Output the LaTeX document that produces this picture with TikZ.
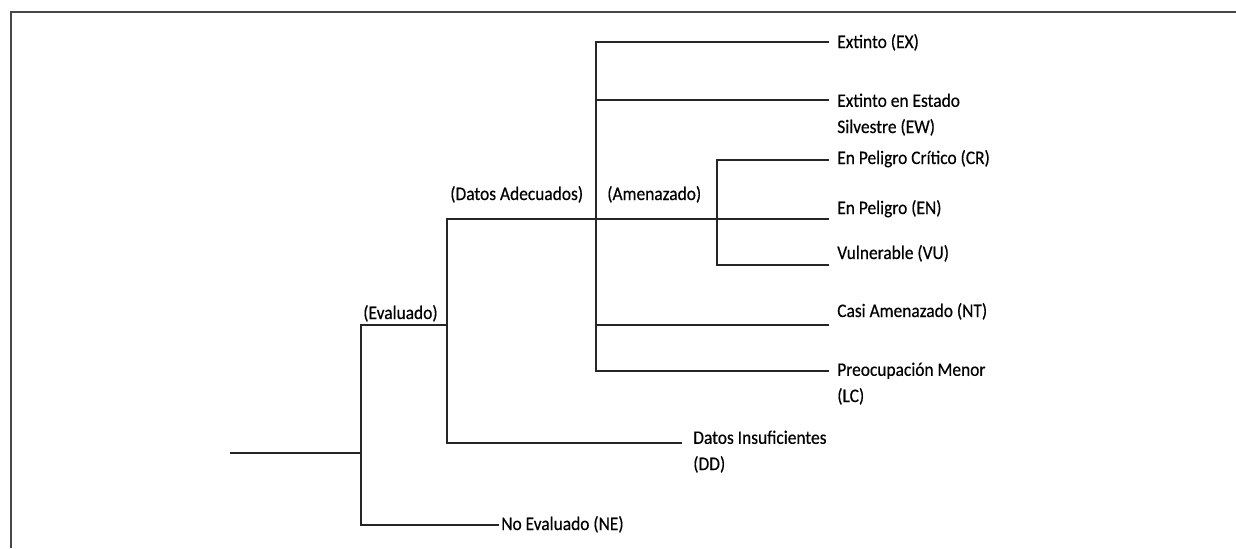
\documentclass[tikz,border=0pt]{standalone}
\usepackage{fontspec}
\setmainfont{Carlito}[FakeStretch=0.91, FakeBold=0.4]
\usetikzlibrary{positioning}

\begin{document}
\begin{tikzpicture}[
    x=0.025cm, y=-0.025cm,
    frame/.style={line width=2pt, draw=black!72},
    branch/.style={line width=1.3pt, draw=black!85},
    leaf/.style={anchor=base west, inner sep=0pt, align=left, font=\fontsize{13.6}{18.6}\selectfont},
    tag/.style={leaf}
]
\useasboundingbox (0,0) rectangle (1236,548);

% Frame
\draw[frame] (11,548) -- (11,12) -- (1236,12);

% Junctions
\coordinate (root) at (230,453);
\coordinate (jEval) at (361,453);
\coordinate (jAdeq) at (447,325);
\coordinate (jThreat) at (596,219);
\coordinate (jEn) at (717,219);

% Branch ends
\coordinate (eNE) at (499,525);
\coordinate (eDD) at (682,443);
\coordinate (eEX) at (829,42);
\coordinate (eEW) at (829,100);
\coordinate (eCR) at (829,160);
\coordinate (eEN) at (829,219);
\coordinate (eVU) at (829,265);
\coordinate (eNT) at (829,325);
\coordinate (eLC) at (829,371);

% Tree
\draw[branch] (root) -- (jEval);
\draw[branch] (jEval) |- (jAdeq);
\draw[branch] (jEval) |- (eNE);
\draw[branch] (jAdeq) |- (jThreat);
\draw[branch] (jAdeq) |- (eDD);
\draw[branch] (jThreat) |- (eEX);
\draw[branch] (jThreat) |- (eEW);
\draw[branch] (jThreat) -- (jEn) -- (eEN);
\draw[branch] (jThreat) |- (eNT);
\draw[branch] (jThreat) |- (eLC);
\draw[branch] (jEn) |- (eCR);
\draw[branch] (jEn) |- (eVU);

% Group labels (base anchor sits on the last line)
\node[tag] (evaluado) at (363,319) {(Evaluado)};
\node[tag] (adecuados) at (450,200) {(Datos Adecuados)};
\node[tag] (amenazado) at (607,200) {(Amenazado)};

% Categories
\node[leaf] (ne) at (501,530) {No Evaluado (NE)};
\node[leaf] (dd) at (693,470) {Datos Insuficientes\\(DD)};
\node[leaf] (ex) at (837,48) {Extinto (EX)};
\node[leaf] (ew) at (837,133) {Extinto en Estado\\Silvestre (EW)};
\node[leaf] (cr) at (837,164) {En Peligro Crítico (CR)};
\node[leaf] (en) at (837,214) {En Peligro (EN)};
\node[leaf] (vu) at (837,259) {Vulnerable (VU)};
\node[leaf] (nt) at (837,317) {Casi Amenazado (NT)};
\node[leaf] (lc) at (837,402) {Preocupación Menor\\(LC)};

\end{tikzpicture}
\end{document}
